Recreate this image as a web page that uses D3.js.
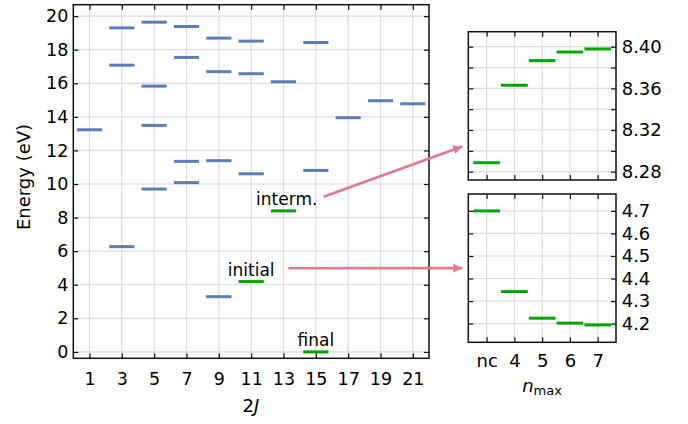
<!DOCTYPE html>
<html>
<head>
<meta charset="utf-8">
<script src="https://cdn.jsdelivr.net/npm/d3@7"></script>
<style>
body { margin: 0; background: #fff; }
text { font-family: "DejaVu Sans", sans-serif; fill: #000; }
</style>
</head>
<body>
<div id="viz"></div>
<script>
// level scheme (blue) : 2J and energy in eV
var levelJ = [1, 3, 3, 3, 5, 5, 5, 5, 7, 7, 7, 7, 9, 9, 9, 9, 11, 11, 11, 13, 15, 15, 17, 19, 21];
var levelE = [13.23, 19.30, 17.08, 6.27, 19.64, 15.83, 13.49, 9.70, 19.38, 17.54, 11.35, 10.08,
              18.69, 16.69, 11.39, 3.29, 18.51, 16.57, 10.61, 16.09, 18.43, 10.81, 13.95, 14.96, 14.78];

// highlighted states (green)
var stateNames = ["initial", "interm.", "final"];
var stateJ = [11, 13, 15];
var stateE = [4.19, 8.40, 0.0];
var stateLabelShift = [0, 0.2, 0];

// convergence with n_max
var nmaxLabels = ["nc", "4", "5", "6", "7"];
var intermConv = [8.2886, 8.3630, 8.3866, 8.3949, 8.3978];
var initialConv = [4.700, 4.342, 4.224, 4.202, 4.194];

var xTicks = d3.range(1, 22, 2);
var yTicks = d3.range(0, 21, 2);
var topTicks = [8.28, 8.30, 8.32, 8.34, 8.36, 8.38, 8.40];
var botTicks = [4.2, 4.3, 4.4, 4.5, 4.6, 4.7];

var blue = "#5a7fb8", green = "#00a600", pink = "#e27a8f", grid = "#dcdcdc";

var svg = d3.select('#viz').append('svg')
    .attr('width', 688)
    .attr('height', 424);

var defs = svg.append('defs');
defs.append('marker')
    .attr('id', 'head')
    .attr('markerUnits', 'userSpaceOnUse')
    .attr('viewBox', '0 0 10 10')
    .attr('refX', 10).attr('refY', 5)
    .attr('markerWidth', 11).attr('markerHeight', 9)
    .attr('orient', 'auto')
    .append('path')
    .attr('d', 'M0,0 L10,5 L0,10 Z')
    .attr('fill', pink);

// main panel
var x = d3.scaleLinear().domain([0, 22]).range([73.3, 429]);
var y = d3.scaleLinear().domain([-0.38, 20.68]).range([358.3, 4.7]);

// side panels
var px = d3.scaleLinear().domain([-0.66, 4.66]).range([468.3, 616]);
var yt = d3.scaleLinear().domain([8.272, 8.4144]).range([180, 31.7]);
var yb = d3.scaleLinear().domain([4.117, 4.775]).range([342.3, 194]);

function drawGrid(g, xs, xv, ys, yv) {
    g.selectAll('.gx').data(xv).enter().append('line')
        .attr('x1', function(d) { return xs(d); })
        .attr('x2', function(d) { return xs(d); })
        .attr('y1', ys.range()[0]).attr('y2', ys.range()[1])
        .attr('stroke', grid).attr('stroke-width', 1.2);
    g.selectAll('.gy').data(yv).enter().append('line')
        .attr('y1', function(d) { return ys(d); })
        .attr('y2', function(d) { return ys(d); })
        .attr('x1', xs.range()[0]).attr('x2', xs.range()[1])
        .attr('stroke', grid).attr('stroke-width', 1.2);
}

function styleAxis(g, fs) {
    g.select('.domain').remove();
    g.selectAll('.tick line').attr('stroke', '#111').attr('stroke-width', 1.2);
    g.selectAll('.tick text').style('font-size', fs + 'px').attr('fill', '#000');
}

function frame(xs, ys) {
    svg.append('rect')
        .attr('x', xs.range()[0]).attr('y', ys.range()[1])
        .attr('width', xs.range()[1] - xs.range()[0])
        .attr('height', ys.range()[0] - ys.range()[1])
        .attr('fill', 'none').attr('stroke', '#111').attr('stroke-width', 1.5);
}

// ---------- main panel ----------
var gm = svg.append('g');
drawGrid(gm, x, xTicks, y, yTicks);

gm.selectAll('.lev').data(levelE).enter().append('line')
    .attr('x1', function(d, i) { return x(levelJ[i] - 0.78); })
    .attr('x2', function(d, i) { return x(levelJ[i] + 0.78); })
    .attr('y1', function(d) { return y(d); })
    .attr('y2', function(d) { return y(d); })
    .attr('stroke', blue).attr('stroke-width', 3);

gm.selectAll('.st').data(stateE).enter().append('line')
    .attr('x1', function(d, i) { return x(stateJ[i] - 0.78); })
    .attr('x2', function(d, i) { return x(stateJ[i] + 0.78); })
    .attr('y1', function(d) { return y(d); })
    .attr('y2', function(d) { return y(d); })
    .attr('stroke', green).attr('stroke-width', 3);

gm.selectAll('.stl').data(stateNames).enter().append('text')
    .attr('x', function(d, i) { return x(stateJ[i] + stateLabelShift[i]); })
    .attr('y', function(d, i) { return y(stateE[i]) - 6; })
    .attr('text-anchor', 'middle')
    .style('font-size', '17px')
    .text(function(d) { return d; });

svg.append('g').attr('transform', 'translate(0,358.3)')
    .call(d3.axisBottom(x).tickValues(xTicks).tickSize(-5).tickSizeOuter(0).tickPadding(14))
    .call(styleAxis, 17.5);
svg.append('g').attr('transform', 'translate(0,4.7)')
    .call(d3.axisTop(x).tickValues(xTicks).tickSize(-5).tickSizeOuter(0).tickFormat(''))
    .call(styleAxis, 17.5);
svg.append('g').attr('transform', 'translate(73.3,0)')
    .call(d3.axisLeft(y).tickValues(yTicks).tickSize(-5).tickSizeOuter(0).tickPadding(5))
    .call(styleAxis, 17.5);
svg.append('g').attr('transform', 'translate(429,0)')
    .call(d3.axisRight(y).tickValues(yTicks).tickSize(-5).tickSizeOuter(0).tickFormat(''))
    .call(styleAxis, 17.5);
frame(x, y);

svg.append('text')
    .attr('transform', 'translate(29.5,177) rotate(-90)')
    .attr('text-anchor', 'middle')
    .style('font-size', '18px')
    .text('Energy (eV)');

var xl = svg.append('text')
    .attr('x', 251).attr('y', 412)
    .attr('text-anchor', 'middle')
    .style('font-size', '18px');
xl.append('tspan').text('2');
xl.append('tspan').style('font-style', 'italic').text('J');

// ---------- side panels ----------
function sidePanel(ys, vals, ticks, fmt, showX) {
    var g = svg.append('g');
    drawGrid(g, px, d3.range(nmaxLabels.length), ys, ticks);
    g.selectAll('.cv').data(vals).enter().append('line')
        .attr('x1', function(d, i) { return px(i - 0.48); })
        .attr('x2', function(d, i) { return px(i + 0.48); })
        .attr('y1', function(d) { return ys(d); })
        .attr('y2', function(d) { return ys(d); })
        .attr('stroke', green).attr('stroke-width', 3);
    var r0 = ys.range();
    svg.append('g').attr('transform', 'translate(0,' + r0[0] + ')')
        .call(d3.axisBottom(px).tickValues(d3.range(nmaxLabels.length)).tickSize(-5).tickSizeOuter(0)
            .tickPadding(12).tickFormat(function(d) { return showX ? nmaxLabels[d] : ''; }))
        .call(styleAxis, 18);
    svg.append('g').attr('transform', 'translate(0,' + r0[1] + ')')
        .call(d3.axisTop(px).tickValues(d3.range(nmaxLabels.length)).tickSize(-5).tickSizeOuter(0).tickFormat(''))
        .call(styleAxis, 18);
    svg.append('g').attr('transform', 'translate(468.3,0)')
        .call(d3.axisLeft(ys).tickValues(ticks).tickSize(-5).tickSizeOuter(0).tickFormat(''))
        .call(styleAxis, 18);
    svg.append('g').attr('transform', 'translate(616,0)')
        .call(d3.axisRight(ys).tickValues(ticks).tickSize(-5).tickSizeOuter(0).tickPadding(5.7).tickFormat(fmt))
        .call(styleAxis, 18);
    frame(px, ys);
}

sidePanel(yt, intermConv, topTicks, function(d) {
    return Math.round(d * 100) % 4 === 0 ? d.toFixed(2) : '';
}, false);
sidePanel(yb, initialConv, botTicks, function(d) { return d.toFixed(1); }, true);

var nl = svg.append('text')
    .attr('x', 542).attr('y', 391.5)
    .attr('text-anchor', 'middle')
    .style('font-size', '18px');
nl.append('tspan').style('font-style', 'italic').text('n');
nl.append('tspan').attr('dy', 3.5).style('font-size', '13px').text('max');

// ---------- arrows ----------
svg.append('line')
    .attr('x1', x(15.48)).attr('y1', y(9.24))
    .attr('x2', px.range()[0] - 6)
    .attr('y2', yt.range()[1] + 0.774 * (yt.range()[0] - yt.range()[1]))
    .attr('stroke', pink).attr('stroke-width', 2.6)
    .attr('marker-end', 'url(#head)');
svg.append('line')
    .attr('x1', x(13.3)).attr('y1', y(4.98))
    .attr('x2', px.range()[0] - 6)
    .attr('y2', yb.range()[1] + 0.5 * (yb.range()[0] - yb.range()[1]))
    .attr('stroke', pink).attr('stroke-width', 2.6)
    .attr('marker-end', 'url(#head)');
</script>
</body>
</html>
